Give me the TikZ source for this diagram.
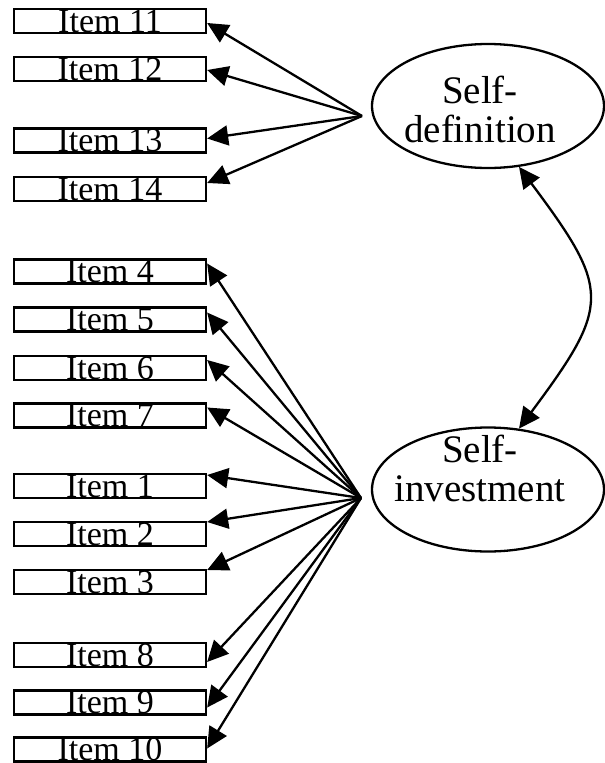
\documentclass[tikz,border=0pt]{standalone}
\usepackage{fontspec}
\setmainfont{Liberation Serif}
\usetikzlibrary{arrows.meta,shapes.geometric}
\tikzstyle{diagram} = [x = 1pt, y = -1pt]
\tikzstyle{itemStyle} = [draw, line width = 2.3pt, minimum width = 192pt, minimum height = 24pt, inner sep = 0pt, font = \fontsize{34}{34}\selectfont]
\tikzstyle{factorStyle} = [draw, ellipse, line width = 2.3pt, minimum width = 232pt, minimum height = 124pt, inner sep = 0pt]
\tikzstyle{factorText} = [inner sep = 0pt, align = center, font = \fontsize{39}{39}\selectfont]
\tikzstyle{loadingLine} = [line width = 2.3pt, -{Triangle[length = 21pt, width = 20pt]}]
\tikzstyle{covLine} = [line width = 2.3pt, {Triangle[length = 21pt, width = 20pt]}-{Triangle[length = 21pt, width = 20pt]}]
\newcommand{\itemBox}[2]{\node [itemStyle] (item#1) at (110, #2) {Item #1};}
\newcommand{\loading}[3]{\draw [loadingLine] (#1) -- ([yshift = #3 pt]item#2.east);}

\begin{document}
\begin{tikzpicture}[diagram]
        \useasboundingbox (0, 0) rectangle (605, 763);
        \node [factorStyle] (selfDef) at (488, 106) {};
        \node [factorText] (selfDefText) at (480, 109) {Self-\\definition};
        \node [factorStyle] (selfInv) at (488, 489.5) {};
        \node [factorText] (selfInvText) at (480, 468) {Self-\\investment};
        \coordinate (defHub) at (362, 116);
        \coordinate (invHub) at (361, 498);

        \itemBox{11}{21}
        \itemBox{12}{69}
        \itemBox{13}{140.5}
        \itemBox{14}{189}
        \itemBox{4}{271.5}
        \itemBox{5}{319.5}
        \itemBox{6}{368}
        \itemBox{7}{415.5}
        \itemBox{1}{486}
        \itemBox{2}{534}
        \itemBox{3}{582}
        \itemBox{8}{655}
        \itemBox{9}{702.5}
        \itemBox{10}{749.5}

        \foreach \item/\shift in {11/-2, 12/-1, 13/2, 14/6} {
          \loading{defHub}{\item}{\shift}
        }
        \foreach \item/\shift in {4/8, 5/7, 6/8, 7/8, 1/11, 2/12, 3/12, 8/-7, 9/-5, 10/1} {
          \loading{invHub}{\item}{\shift}
        }

        \draw [covLine] (selfDef.-63) .. controls (611, 290) and (611, 305) .. (selfInv.63);
      \end{tikzpicture}
\end{document}
